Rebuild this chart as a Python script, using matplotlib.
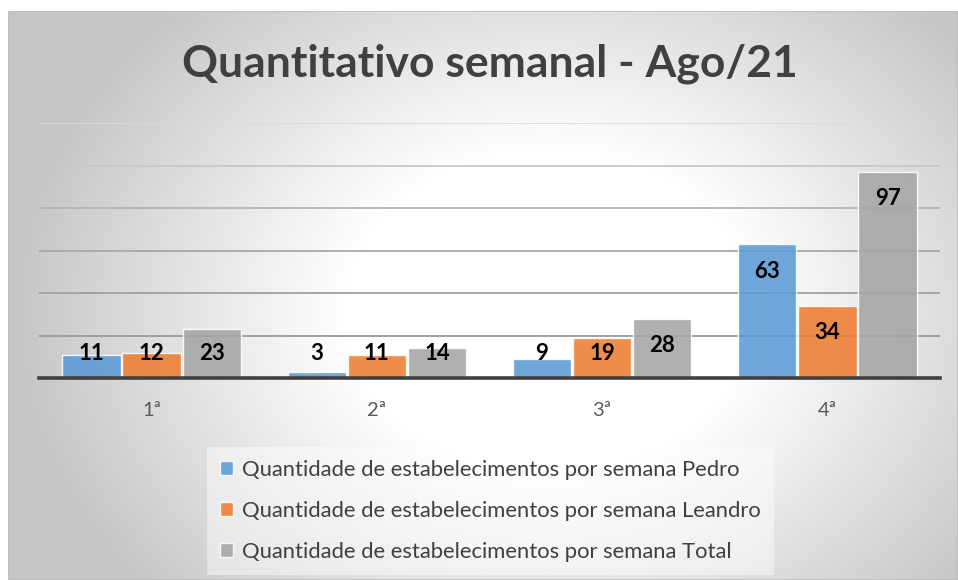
import numpy as np
import matplotlib
matplotlib.use("Agg")
import matplotlib.pyplot as plt
from matplotlib.patches import Rectangle

# ---- data ----
title = "Quantitativo semanal - Ago/21"
categories = ["1ª", "2ª", "3ª", "4ª"]
series_names = [
    "Quantidade de estabelecimentos por semana Pedro",
    "Quantidade de estabelecimentos por semana Leandro",
    "Quantidade de estabelecimentos por semana Total",
]
pedro = [11, 3, 9, 63]
leandro = [12, 11, 19, 34]
total = [23, 14, 28, 97]
grid_values = [20, 40, 60, 80, 100, 120]

colors = ["#5B9BD5", "#ED7D31", "#A5A5A5"]
FONT = "Lato"

W, H = 958, 580
fig = plt.figure(figsize=(W / 100, H / 100), dpi=100)
fig.patch.set_facecolor("white")

# ---- background with radial gradient (chart area) ----
bx0, by_top = 8, 11
bg = fig.add_axes([bx0 / W, 0, (W - bx0) / W, (H - by_top) / H])
bg.set_axis_off()
nx, ny = W - bx0, H - by_top
xx, yy = np.meshgrid(np.arange(nx), np.arange(ny))
cx, cy = 540, 300
rx, ry = 530, 420
d = np.sqrt(((xx - cx) / rx) ** 2 + ((yy - cy) / ry) ** 2)
t = np.clip((d - 0.38) / 0.62, 0, 1)
val = 1.0 - t * (1.0 - 0.78)
img = np.dstack([val, val, val])
bg.imshow(img, aspect="auto", extent=[0, 1, 0, 1], origin="upper")
bg.add_patch(Rectangle((0, 0), 1, 1, transform=bg.transAxes, fill=False,
                       edgecolor="#bdbdbd", linewidth=1.2))
bg.set_xlim(0, 1); bg.set_ylim(0, 1)

# ---- plot area ----
left, right, base, top = 39, 940, 378, 123
ax = fig.add_axes([left / W, (H - base) / H, (right - left) / W, (base - top) / H])
ax.patch.set_alpha(0)
ax.set_xlim(-0.5, len(categories) - 0.5)
ax.set_ylim(0, 120)
for s in ax.spines.values():
    s.set_visible(False)
ax.set_yticks([])
ax.set_xticks(range(len(categories)))
ax.set_xticklabels(categories, fontfamily=FONT, fontsize=14.5, color="#595959")
ax.tick_params(axis="x", length=0, pad=17)

grid_colors = ["#9a9a9a", "#a0a0a0", "#a8a8a8", "#b4b4b4", "#c8c8c8", "#dadada"]
for gv, gc in zip(grid_values, grid_colors):
    ax.axhline(gv, color=gc, linewidth=1.3, zorder=0)
ax.axhline(0, color="#404040", linewidth=2.6, zorder=5, clip_on=False)

bw = 0.267
x = np.arange(len(categories))
handles = []
for i, (vals, col, name) in enumerate(zip([pedro, leandro, total], colors, series_names)):
    pos = x + (i - 1) * bw
    b = ax.bar(pos, vals, width=bw - 0.008, color=col, alpha=0.88,
               edgecolor=(1, 1, 1, 0.6), linewidth=1.0, zorder=3, label=name)
    handles.append(b)
    for px, v in zip(pos, vals):
        ly = max(v - 12.7, 11.3)
        ax.text(px, ly, str(v), ha="center", va="center", fontfamily=FONT,
                fontweight="bold", fontsize=16, color="black", zorder=6)

# ---- title ----
fig.text(490 / W, 1 - 64 / H, title, ha="center", va="center", fontfamily=FONT,
         fontweight="bold", fontsize=32, color="#404040")

# ---- legend ----
leg = fig.legend(handles=handles, labels=series_names, loc="upper left",
                 bbox_to_anchor=(196 / W, 1 - 436 / H), frameon=True,
                 prop={"family": FONT, "size": 15.8}, labelcolor="#404040",
                 handlelength=0.6, handleheight=0.6, handletextpad=0.4,
                 labelspacing=0.95, borderpad=0.6, fancybox=False)
leg.get_frame().set_facecolor("white")
leg.get_frame().set_alpha(0.45)
leg.get_frame().set_edgecolor("none")

fig.savefig("out.png", dpi=100)
